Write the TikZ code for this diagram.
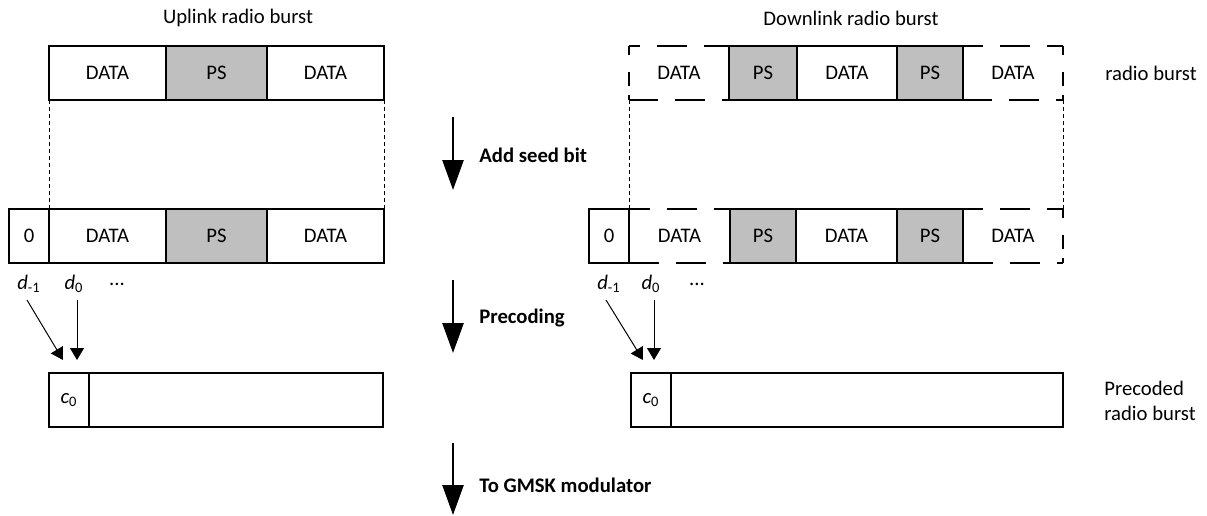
\documentclass[tikz,border=0pt]{standalone}
\usepackage{fontspec}
\setmainfont{Carlito}
\usetikzlibrary{arrows.meta}
\definecolor{psgray}{RGB}{191,191,191}

% one cell of a burst: name, x1, x2, y1, y2, style, text
\newcommand\burstcell[7]{%
  \node[cellbase,#6,minimum width={(#3-#2)*0.5pt},minimum height={(#5-#4)*0.5pt}]
    (#1) at ({(#2+#3)/2},{(#4+#5)/2}) {#7};}

\tikzset{
  txt/.style={font=\fontsize{10.35pt}{12.4pt}\selectfont},
  cellbase/.style={rectangle, inner sep=0pt, outer sep=0pt, txt},
  solidcell/.style={draw, line width=1pt},
  pscell/.style={solidcell, fill=psgray},
  opencell/.style={},
  hdash/.style={line width=1pt, dash pattern=on 15pt off 8.5pt},
  vdash/.style={line width=1pt, dash pattern=on 4.5pt off 8.5pt on 7pt off 4.5pt},
  guide/.style={line width=0.5pt, dash pattern=on 2pt off 1.5pt},
  bitarrow/.style={line width=0.5pt, -{Triangle[width=7pt,length=6pt]}},
  steparrow/.style={line width=1.3pt, -{Triangle[width=10.5pt,length=15pt]}},
  steplabel/.style={anchor=west, inner sep=0pt, font=\fontsize{10.35pt}{12.4pt}\selectfont\bfseries},
  plainlabel/.style={inner sep=0pt, txt},
}

\begin{document}
\begin{tikzpicture}[x=0.5pt, y=-0.5pt]
\useasboundingbox (0,0) rectangle (1207,515);

% ---------- titles ----------
\node[plainlabel] (uptitle) at (238,18) {Uplink radio burst};
\node[plainlabel] (dntitle) at (851,18) {Downlink radio burst};

% ---------- uplink: radio burst ----------
\burstcell{u1a}{49}{166}{46}{100}{solidcell}{DATA}
\burstcell{u1b}{166}{267}{46}{100}{pscell}{PS}
\burstcell{u1c}{267}{384}{46}{100}{solidcell}{DATA}

% ---------- uplink: with seed bit ----------
\burstcell{u2z}{9}{49}{209}{263}{solidcell}{0}
\burstcell{u2a}{49}{166}{209}{263}{solidcell}{DATA}
\burstcell{u2b}{166}{267}{209}{263}{pscell}{PS}
\burstcell{u2c}{267}{384}{209}{263}{solidcell}{DATA}

\draw[guide] (u1a.south west) -- (u2a.north west);
\draw[guide] (u1c.south east) -- (u2c.north east);

% ---------- uplink: precoded ----------
\burstcell{u3c}{49}{89}{373}{427}{solidcell}{\textit{c}\textsubscript{0}}
\burstcell{u3r}{89}{383}{373}{427}{solidcell}{}

\node[plainlabel] (ud1) at (29,284) {\textit{d}\textsubscript{-1}};
\node[plainlabel] (ud0) at (74,284) {\textit{d}\textsubscript{0}};
\node[plainlabel] (udots) at (117,284) {...};

\coordinate (us1) at (27,300);
\coordinate (ue1) at (63,360);
\coordinate (us0) at (77,300);
\coordinate (ue0) at (77,360);
\draw[bitarrow] (us1) -- (ue1);
\draw[bitarrow] (us0) -- (ue0);

% ---------- downlink: radio burst ----------
\burstcell{d1a}{629}{729}{46}{100}{opencell}{DATA}
\burstcell{d1b}{729}{797}{46}{100}{pscell}{PS}
\burstcell{d1c}{797}{897}{46}{100}{solidcell}{DATA}
\burstcell{d1d}{897}{963}{46}{100}{pscell}{PS}
\burstcell{d1e}{963}{1063}{46}{100}{opencell}{DATA}

\draw[hdash, dash phase=9.5pt] (d1a.north west) -- (d1a.north east);
\draw[hdash, dash phase=0.5pt] (d1a.south west) -- (d1a.south east);
\draw[vdash] (d1a.north west) -- (d1a.south west);
\draw[hdash, dash phase=5pt] (d1e.north west) -- (d1e.north east);
\draw[hdash, dash phase=0.5pt] (d1e.south west) -- (d1e.south east);
\draw[vdash] (d1e.north east) -- (d1e.south east);

\node[plainlabel, anchor=west] (rblabel) at (1105,73) {radio burst};

% ---------- downlink: with seed bit ----------
\burstcell{d2z}{589}{629}{209}{263}{solidcell}{0}
\burstcell{d2a}{629}{730}{209}{263}{opencell}{DATA}
\burstcell{d2b}{730}{796}{209}{263}{pscell}{PS}
\burstcell{d2c}{796}{897}{209}{263}{solidcell}{DATA}
\burstcell{d2d}{897}{963}{209}{263}{pscell}{PS}
\burstcell{d2e}{963}{1063}{209}{263}{opencell}{DATA}

\draw[hdash, dash phase=4.5pt] (d2a.north west) -- (d2a.north east);
\draw[hdash, dash phase=0pt] (d2a.south west) -- (d2a.south east);
\draw[hdash, dash phase=5pt] (d2e.north west) -- (d2e.north east);
\draw[hdash, dash phase=0pt] (d2e.south west) -- (d2e.south east);
\draw[vdash] (d2e.north east) -- (d2e.south east);

\draw[guide] (d1a.south west) -- (d2a.north west);
\draw[guide] (d1e.south east) -- (d2e.north east);

% ---------- downlink: precoded ----------
\burstcell{d3c}{631}{671}{373}{427}{solidcell}{\textit{c}\textsubscript{0}}
\burstcell{d3r}{671}{1063}{373}{427}{solidcell}{}

\node[plainlabel] (dd1) at (609,284) {\textit{d}\textsubscript{-1}};
\node[plainlabel] (dd0) at (651,284) {\textit{d}\textsubscript{0}};
\node[plainlabel] (ddots) at (697,284) {...};

\coordinate (ds1) at (606,300);
\coordinate (de1) at (643,360);
\coordinate (ds0) at (654,300);
\coordinate (de0) at (654,360);
\draw[bitarrow] (ds1) -- (de1);
\draw[bitarrow] (ds0) -- (de0);

\node[plainlabel, anchor=west, align=left] (pclabel) at (1104,401)
  {Precoded\\radio burst};

% ---------- processing steps ----------
\coordinate (s1a) at (453,117);
\coordinate (s1b) at (453,190);
\coordinate (s2a) at (453,280);
\coordinate (s2b) at (453,353);
\coordinate (s3a) at (453,443);
\coordinate (s3b) at (453,515);
\draw[steparrow] (s1a) -- (s1b);
\draw[steparrow] (s2a) -- (s2b);
\draw[steparrow] (s3a) -- (s3b);

\node[steplabel] (seedlbl) at (479,155) {Add seed bit};
\node[steplabel] (preclbl) at (479,318) {Precoding};
\node[steplabel] (gmsklbl) at (479,485) {To GMSK modulator};
\end{tikzpicture}
\end{document}
